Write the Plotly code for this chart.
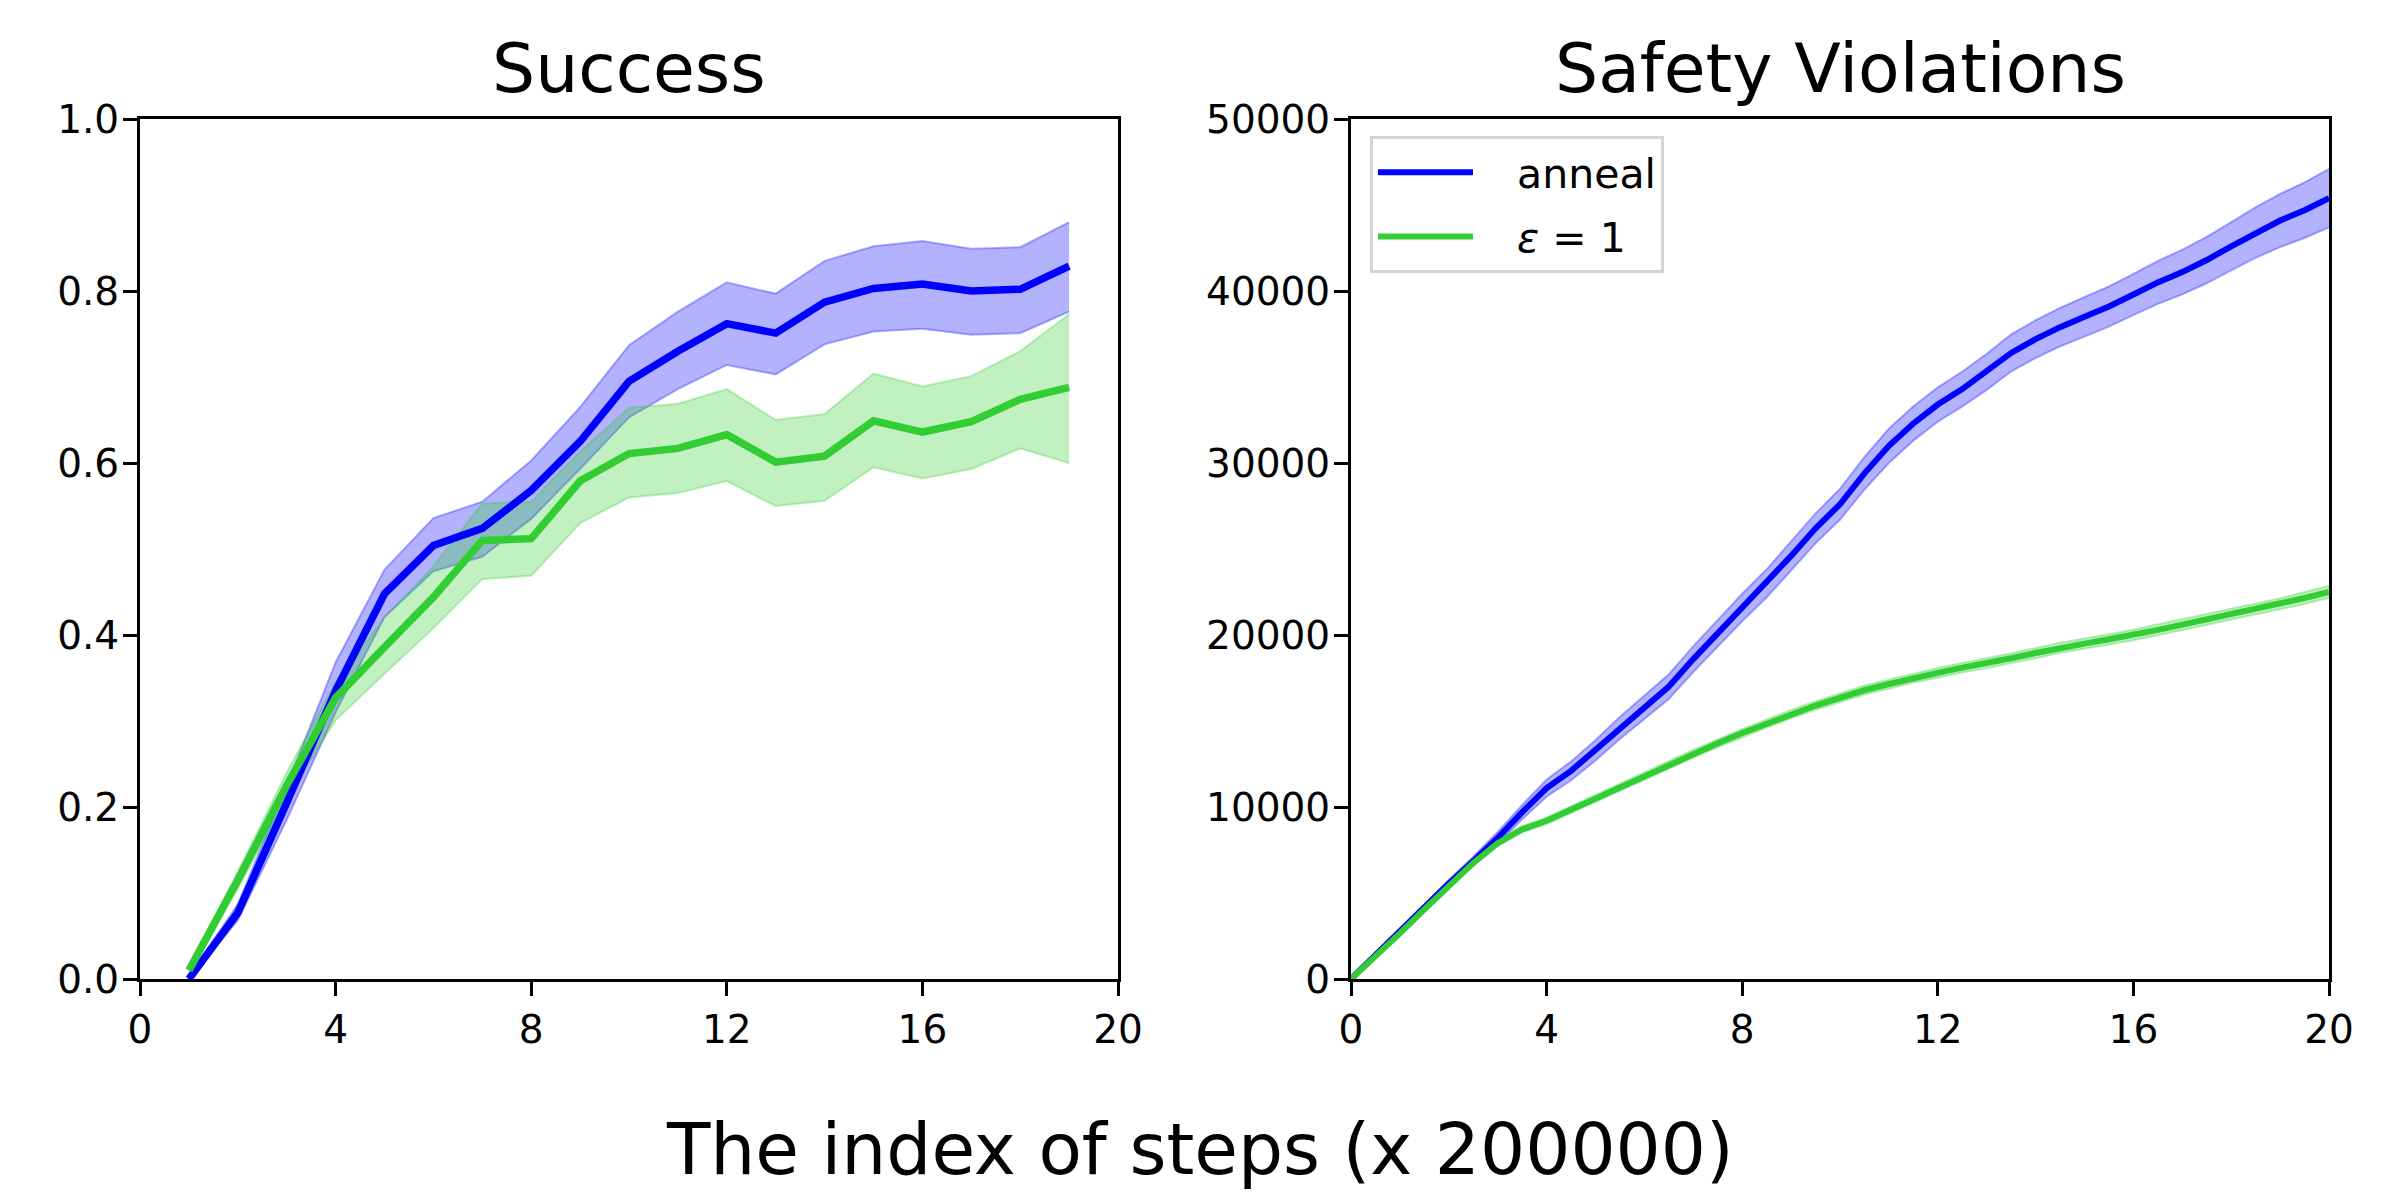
import plotly.graph_objects as go

# --- Success panel (evaluated every 200000 steps) ---
succ_x = [1, 2, 3, 4, 5, 6, 7, 8, 9, 10, 11, 12, 13, 14, 15, 16, 17, 18, 19]

succ_anneal_mean = [0.0, 0.077, 0.205, 0.335, 0.448, 0.504, 0.524, 0.568, 0.625, 0.695,
                    0.730, 0.762, 0.751, 0.787, 0.803, 0.808, 0.800, 0.802, 0.829]
succ_anneal_low = [0.0, 0.068, 0.185, 0.310, 0.421, 0.474, 0.491, 0.535, 0.593, 0.653,
                   0.686, 0.714, 0.703, 0.738, 0.753, 0.756, 0.749, 0.751, 0.776]
succ_anneal_high = [0.003, 0.087, 0.225, 0.368, 0.476, 0.536, 0.555, 0.603, 0.665, 0.737,
                    0.776, 0.810, 0.797, 0.835, 0.852, 0.858, 0.849, 0.851, 0.880]

succ_eps_mean = [0.010, 0.115, 0.225, 0.327, 0.386, 0.444, 0.510, 0.512, 0.579, 0.611,
                 0.617, 0.633, 0.601, 0.608, 0.649, 0.636, 0.648, 0.674, 0.688]
succ_eps_low = [0.008, 0.105, 0.210, 0.301, 0.355, 0.408, 0.465, 0.469, 0.530, 0.560,
                0.565, 0.579, 0.550, 0.556, 0.595, 0.582, 0.593, 0.617, 0.600]
succ_eps_high = [0.012, 0.125, 0.240, 0.345, 0.420, 0.480, 0.553, 0.555, 0.613, 0.664,
                 0.669, 0.686, 0.650, 0.657, 0.704, 0.689, 0.701, 0.730, 0.773]

# --- Safety violations panel (cumulative) ---
safe_x = [0, 0.5, 1, 1.5, 2, 2.5, 3, 3.5, 4, 4.5, 5, 5.5, 6, 6.5, 7, 7.5, 8, 8.5, 9, 9.5, 10,
          10.5, 11, 11.5, 12, 12.5, 13, 13.5, 14, 14.5, 15, 15.5, 16, 16.5, 17, 17.5, 18,
          18.5, 19, 19.5, 20]

safe_anneal_mean = [0, 1400, 2800, 4200, 5550, 6850, 8200, 9700, 11100, 12100, 13300,
                    14600, 15800, 17000, 18600, 20100, 21600, 23000, 24600, 26200, 27600,
                    29400, 31000, 32300, 33400, 34300, 35300, 36400, 37200, 37900, 38500,
                    39100, 39800, 40500, 41100, 41800, 42600, 43400, 44100, 44700, 45400]
safe_anneal_spread = [0, 50, 100, 150, 200, 270, 350, 420, 500, 550, 600, 650, 700, 720,
                      750, 780, 800, 820, 850, 870, 900, 950, 1000, 1000, 1000, 1020, 1050,
                      1080, 1100, 1120, 1150, 1170, 1200, 1250, 1300, 1350, 1400, 1470,
                      1550, 1620, 1700]

safe_eps_mean = [0, 1300, 2650, 4050, 5400, 6750, 7900, 8700, 9200, 9850, 10500, 11150,
                 11800, 12450, 13100, 13700, 14300, 14850, 15400, 15900, 16350, 16800,
                 17150, 17500, 17800, 18100, 18350, 18650, 18950, 19250, 19500, 19750,
                 20000, 20300, 20600, 20900, 21200, 21500, 21800, 22150, 22500]
safe_eps_spread = [0, 60, 100, 120, 150, 160, 170, 180, 190, 200, 200, 210, 220, 220, 230,
                   230, 240, 240, 250, 250, 260, 260, 270, 270, 280, 280, 290, 290, 300,
                   300, 300, 310, 310, 320, 320, 330, 330, 340, 340, 350, 350]

BLUE = "#0000ff"
GREEN = "#32cd32"
BLUE_BAND = "rgba(0,0,255,0.3)"
GREEN_BAND = "rgba(50,205,50,0.3)"
FONT = "DejaVu Sans"

fig = go.Figure()


def add_band(x, low, high, band_color, xa, ya):
    fig.add_trace(go.Scatter(x=x, y=low, mode="lines", line=dict(color=band_color, width=2),
                             showlegend=False, hoverinfo="skip", xaxis=xa, yaxis=ya))
    fig.add_trace(go.Scatter(x=x, y=high, mode="lines", line=dict(color=band_color, width=2),
                             fill="tonexty", fillcolor=band_color, showlegend=False,
                             hoverinfo="skip", xaxis=xa, yaxis=ya))


# left: success
add_band(succ_x, succ_anneal_low, succ_anneal_high, BLUE_BAND, "x", "y")
add_band(succ_x, succ_eps_low, succ_eps_high, GREEN_BAND, "x", "y")
fig.add_trace(go.Scatter(x=succ_x, y=succ_anneal_mean, mode="lines", line=dict(color=BLUE, width=7.5),
                         showlegend=False, xaxis="x", yaxis="y"))
fig.add_trace(go.Scatter(x=succ_x, y=succ_eps_mean, mode="lines", line=dict(color=GREEN, width=7.5),
                         showlegend=False, xaxis="x", yaxis="y"))

# right: safety violations
a_low = [m - s for m, s in zip(safe_anneal_mean, safe_anneal_spread)]
a_high = [m + s for m, s in zip(safe_anneal_mean, safe_anneal_spread)]
e_low = [m - s for m, s in zip(safe_eps_mean, safe_eps_spread)]
e_high = [m + s for m, s in zip(safe_eps_mean, safe_eps_spread)]
add_band(safe_x, a_low, a_high, BLUE_BAND, "x2", "y2")
add_band(safe_x, e_low, e_high, GREEN_BAND, "x2", "y2")
# non-breaking spaces leave a gap between the legend line and its label
fig.add_trace(go.Scatter(x=safe_x, y=safe_anneal_mean, mode="lines",
                         name="\u00a0\u00a0\u00a0anneal", legendgroup="anneal",
                         line=dict(color=BLUE, width=6), xaxis="x2", yaxis="y2"))
fig.add_trace(go.Scatter(x=safe_x, y=safe_eps_mean, mode="lines",
                         name="\u00a0\u00a0\u00a0<i>ε</i> = 1", legendgroup="eps",
                         line=dict(color=GREEN, width=6), xaxis="x2", yaxis="y2"))

axis_style = dict(showline=True, linecolor="black", linewidth=3, mirror=True,
                  ticks="outside", ticklen=14, tickwidth=3, tickcolor="black",
                  showgrid=False, zeroline=False, automargin=False,
                  tickfont=dict(family=FONT, size=39, color="black"))

x_ticks = [0, 4, 8, 12, 16, 20]

# the page body adds an 8px offset, so positions below are shifted by 8px
fig.update_layout(
    width=2400, height=1200,
    margin=dict(l=0, r=0, t=0, b=0, autoexpand=False),
    paper_bgcolor="white", plot_bgcolor="white",
    font=dict(family=FONT, color="black"),
    xaxis=dict(domain=[132 / 2400, 1110 / 2400], range=[0, 20], tickvals=x_ticks,
               anchor="y", **axis_style),
    yaxis=dict(domain=[229 / 1200, 1089 / 1200], range=[0, 1],
               tickvals=[0, 0.2, 0.4, 0.6, 0.8, 1.0], tickformat=".1f",
               ticklabelstandoff=-4, anchor="x", **axis_style),
    xaxis2=dict(domain=[1343 / 2400, 2321 / 2400], range=[0, 20], tickvals=x_ticks,
                anchor="y2", **axis_style),
    yaxis2=dict(domain=[229 / 1200, 1089 / 1200], range=[0, 50000],
                tickvals=[0, 10000, 20000, 30000, 40000, 50000], tickformat="d",
                ticklabelstandoff=-4, anchor="x2", **axis_style),
    legend=dict(x=1362 / 2400, y=1 - 128 / 1200, xanchor="left", yanchor="top",
                bgcolor="rgba(255,255,255,0.8)", bordercolor="#d4d4d4", borderwidth=3,
                font=dict(family=FONT, size=41, color="black"), itemwidth=95,
                traceorder="grouped", tracegroupgap=8),
    showlegend=True,
)

fig.add_annotation(text="Success", x=621 / 2400, y=1 - 60 / 1200, xref="paper", yref="paper",
                   showarrow=False, xanchor="center", yanchor="middle",
                   font=dict(family=FONT, size=68, color="black"))
fig.add_annotation(text="Safety Violations", x=1832 / 2400, y=1 - 60 / 1200, xref="paper",
                   yref="paper", showarrow=False, xanchor="center", yanchor="middle",
                   font=dict(family=FONT, size=68, color="black"))
fig.add_annotation(text="The index of steps (x 200000)", x=1192 / 2400, y=1 - 1141 / 1200,
                   xref="paper", yref="paper", showarrow=False, xanchor="center",
                   yanchor="middle", font=dict(family=FONT, size=71, color="black"))

fig.write_html("out.html")
